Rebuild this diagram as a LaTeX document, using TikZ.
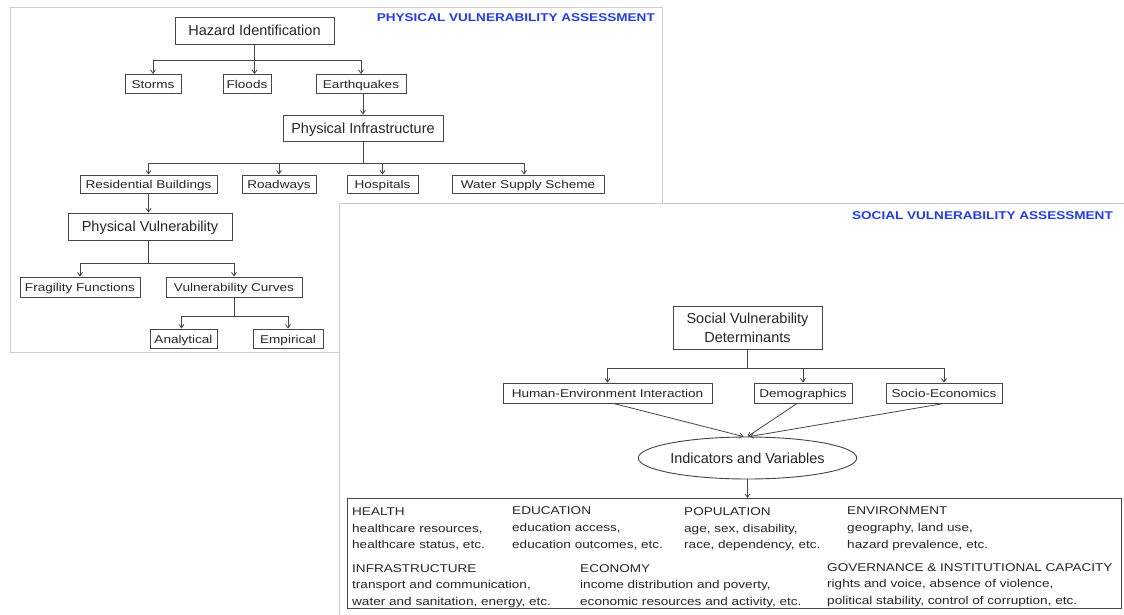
\documentclass[tikz,border=0pt]{standalone}
\usepackage{fontspec}
\setmainfont{Liberation Sans}
\newfontfamily\widefont[FakeStretch=1.2]{Liberation Sans}
\usetikzlibrary{arrows.meta,shapes.geometric}
\definecolor{titleblue}{RGB}{35,60,235}
\definecolor{boxline}{RGB}{70,70,70}
\definecolor{panelgray}{RGB}{205,205,205}
\tikzset{
  sbox/.style={draw=boxline, line width=0.9pt, font=\widefont\fontsize{11.3}{13}\selectfont, inner sep=0pt, text height=10pt, text depth=0.2pt, minimum height=19pt, text=black!85},
  mbox/.style={draw=boxline, line width=0.9pt, font=\fontsize{14.5}{19}\selectfont, inner sep=0pt, text height=11.8pt, text depth=1.4pt, minimum height=27pt, text=black!85},
  conn/.style={draw=boxline, line width=0.8pt},
  arr/.style={conn, -{Straight Barb[length=3.5pt,width=5pt]}},
  ttl/.style={font=\widefont\bfseries\fontsize{11.3}{13}\selectfont, text=titleblue, inner sep=0pt},
  txt/.style={font=\widefont\fontsize{11.3}{13}\selectfont, text=black!85, inner sep=0pt, anchor=base west},
  panel/.style={draw=panelgray, line width=1pt}
}
\begin{document}
\begin{tikzpicture}[x=1pt,y=-1pt]
\useasboundingbox (0,0) rectangle (1124,615);
% left panel
\draw[panel] (10,8) rectangle (662,352);
\node[ttl, anchor=east] (ptitle) at (655,18) {PHYSICAL VULNERABILITY ASSESSMENT};
\node[mbox, minimum width=159pt] (haz) at (254.5,30.5) {Hazard Identification};
\node[sbox, minimum width=56pt] (storms) at (153,84) {Storms};
\node[sbox, minimum width=48pt] (floods) at (247,84) {Floods};
\node[sbox, minimum width=90pt] (earth) at (361,84) {Earthquakes};
\node[mbox, minimum width=160pt, minimum height=26pt] (pinf) at (363,128) {Physical Infrastructure};
\node[sbox, minimum width=137pt, minimum height=18pt] (res) at (148.5,184) {Residential Buildings};
\node[sbox, minimum width=74pt, minimum height=18pt] (road) at (279,184) {Roadways};
\node[sbox, minimum width=71pt, minimum height=18pt] (hosp) at (382.5,184) {Hospitals};
\node[sbox, minimum width=152pt, minimum height=18pt] (water) at (528,184) {Water Supply Scheme};
\node[mbox, minimum width=164pt] (pvul) at (150,226.5) {Physical Vulnerability};
\node[sbox, minimum width=120pt, minimum height=20pt] (frag) at (80,287) {Fragility Functions};
\node[sbox, minimum width=136pt, minimum height=20pt] (vcurv) at (234,287) {Vulnerability Curves};
\node[sbox, minimum width=67pt] (anal) at (183.5,338.5) {Analytical};
\node[sbox, minimum width=70pt] (emp) at (288,338.5) {Empirical};
% left connectors
\coordinate (j1) at (254.5,60);
\draw[conn] (haz) -- (j1);
\draw[arr] (j1) -| (storms);
\draw[arr] (j1) -- (j1 |- floods.north);
\draw[arr] (j1) -| (earth);
\draw[arr] (earth.south -| pinf.north) -- (pinf.north);
\coordinate (j2) at (363,163);
\draw[conn] (pinf) -- (j2);
\draw[arr] (j2) -| (res);
\draw[arr] (j2) -| (road);
\draw[arr] (j2) -| (hosp);
\draw[arr] (j2) -| ([xshift=-4pt]water.north);
\draw[arr] (res.south) -- (res.south |- pvul.north);
\coordinate (j3) at (148.5,263);
\draw[conn] (res.south |- pvul.south) -- (j3);
\draw[arr] (j3) -| (frag);
\draw[arr] (j3) -| (vcurv);
\coordinate (j4) at (234,316);
\draw[conn] (vcurv) -- (j4);
\draw[arr] (j4) -| ([xshift=-2pt]anal.north);
\draw[arr] (j4) -| (emp);
% right panel
\fill[white] (339,203) rectangle (1124,615);
\draw[panel] (339,615) -- (339,203) -- (1124,203);
\node[ttl, anchor=east] (stitle) at (1113,216) {SOCIAL VULNERABILITY ASSESSMENT};
\node[draw=boxline, line width=0.9pt, font=\fontsize{14.5}{19}\selectfont, text=black!85, align=center, inner sep=0pt, minimum width=149pt, minimum height=43pt] (svd) at (747.5,327.5) {Social Vulnerability\\Determinants};
\node[sbox, minimum width=209pt, minimum height=20pt] (hei) at (607.5,393) {Human-Environment Interaction};
\node[sbox, minimum width=98pt, minimum height=20pt] (demo) at (803,393) {Demographics};
\node[sbox, minimum width=116pt, minimum height=20pt] (socio) at (944,393) {Socio-Economics};
\node[ellipse, draw=boxline, line width=0.9pt, font=\fontsize{14.5}{19}\selectfont, text=black!85, inner sep=0pt, text height=11.8pt, text depth=1.4pt, minimum width=205pt, minimum height=42pt] (ind) at (747.5,458) {Indicators and Variables};
\draw[draw=boxline, line width=0.9pt] (347,498) rectangle (1121,608);
\coordinate (bigtop) at (747.5,498);
\coordinate (j5) at (747.5,368);
\draw[conn] (svd) -- (j5);
\draw[arr] (j5) -| (hei);
\draw[arr] (j5) -| (demo);
\draw[arr] (j5) -| (socio);
\draw[arr] ([xshift=6pt]hei.south) -- ([xshift=-4pt]ind.north);
\draw[arr] ([xshift=-6pt]demo.south) -- (ind.north);
\draw[arr] (socio.south) -- ([xshift=2pt]ind.north);
\draw[arr] (ind.south) -- (bigtop);
% texts in big box
\node[txt] (t1a) at (352,515) {HEALTH};
\node[txt] (t1b) at (352,532) {healthcare resources,};
\node[txt] (t1c) at (352,548) {healthcare status, etc.};
\node[txt] (t2a) at (512,514) {EDUCATION};
\node[txt] (t2b) at (512,531) {education access,};
\node[txt] (t2c) at (512,548) {education outcomes, etc.};
\node[txt] (t3a) at (684,515) {POPULATION};
\node[txt] (t3b) at (684,532) {age, sex, disability,};
\node[txt] (t3c) at (684,548) {race, dependency, etc.};
\node[txt] (t4a) at (847,514) {ENVIRONMENT};
\node[txt] (t4b) at (847,531) {geography, land use,};
\node[txt] (t4c) at (847,548) {hazard prevalence, etc.};
\node[txt] (t5a) at (352,572) {INFRASTRUCTURE};
\node[txt] (t5b) at (352,588) {transport and communication,};
\node[txt] (t5c) at (352,605) {water and sanitation, energy, etc.};
\node[txt] (t6a) at (580,572) {ECONOMY};
\node[txt] (t6b) at (580,588) {income distribution and poverty,};
\node[txt] (t6c) at (580,605) {economic resources and activity, etc.};
\node[txt] (t7a) at (827,571) {GOVERNANCE \& INSTITUTIONAL CAPACITY};
\node[txt] (t7b) at (827,587) {rights and voice, absence of violence,};
\node[txt] (t7c) at (827,604) {political stability, control of corruption, etc.};
\end{tikzpicture}
\end{document}
